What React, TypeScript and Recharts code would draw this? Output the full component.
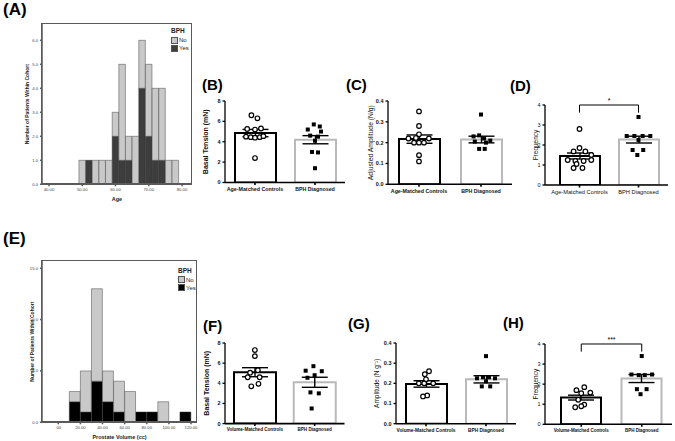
import React from 'react';
import {
  ComposedChart, BarChart, Bar, XAxis, YAxis, Scatter, ErrorBar, Cell,
  ReferenceLine, Legend,
} from 'recharts';

const SANS = '"Liberation Sans", Arial, Helvetica, sans-serif';

/* ---------- (A) age histogram ---------- */
const ageBins = [50, 52, 54, 56, 58, 60, 62, 64, 66, 68, 70, 72, 74, 76, 78];
const ageYes = [0, 1, 0, 0, 0, 2, 1, 1, 0, 4, 2, 1, 1, 0, 0];
const ageNo = [1, 0, 1, 1, 1, 1, 4, 1, 2, 2, 3, 3, 3, 1, 1];
const ageBinWidth = 2;
const ageAxisDomain: [number, number] = [37.9, 83];
const ageTicks = [40, 50, 60, 70, 80];
const ageCountDomain: [number, number] = [0, 6.68];
const ageCountTicks = [0, 1, 2, 3, 4, 5, 6];

/* ---------- (E) prostate volume histogram ---------- */
const volBins = [15, 25, 35, 45, 55, 65, 75, 85, 95, 105, 115];
const volYes = [2, 1, 4, 2, 1, 0, 1, 1, 0, 0, 1];
const volNo = [1, 4, 9, 3, 3, 3, 0, 0, 2, 0, 0];
const volBinWidth = 10;
const volAxisDomain: [number, number] = [-14.7, 125.4];
const volTicks = [0, 20, 40, 60, 80, 100, 120];
const volCountDomain: [number, number] = [0, 15.7];
const volCountTicks = [0, 5, 10, 15];

/* ---------- group names ---------- */
const groupsAge = ['Age-Matched Controls', 'BPH Diagnosed'];
const groupsVol = ['Volume-Matched Controls', 'BPH Diagnosed'];

type Pt = [number, number]; // [horizontal jitter in group units, value]

/* (B) basal tension, age-matched */
const bMeans = [4.85, 4.2];
const bSems = [0.36, 0.4];
const bCtrl: Pt[] = [[-0.06, 6.6], [0.04, 6.3], [-0.13, 5.25], [0, 5.2], [0.1, 5.3], [-0.15, 4.5], [-0.07, 4.45], [0, 4.4], [0.08, 4.45], [0.14, 4.55], [0, 2.4]];
const bBph: Pt[] = [[-0.02, 5.7], [0.08, 5.5], [-0.12, 5.2], [0.1, 5.0], [-0.08, 4.6], [0.05, 4.5], [0, 4.1], [-0.05, 3.0], [0.05, 2.95], [0, 1.4]];

/* (C) adjusted amplitude, age-matched */
const cMeans = [0.217, 0.215];
const cSems = [0.02, 0.016];
const cCtrl: Pt[] = [[0, 0.35], [0, 0.28], [0, 0.24], [-0.17, 0.22], [-0.05, 0.222], [0.16, 0.22], [-0.08, 0.2], [0, 0.2], [0.08, 0.2], [0, 0.14], [0, 0.11]];
const cBph: Pt[] = [[0, 0.335], [-0.12, 0.23], [-0.03, 0.235], [0.05, 0.22], [0.15, 0.21], [-0.1, 0.205], [0.08, 0.2], [-0.03, 0.17], [0.06, 0.17]];

/* (D) frequency, age-matched */
const dMeans = [1.45, 2.27];
const dSems = [0.15, 0.17];
const dCtrl: Pt[] = [[0, 2.8], [0, 1.85], [-0.1, 1.68], [0.1, 1.68], [0.2, 1.5], [-0.2, 1.25], [-0.07, 1.2], [0.07, 1.2], [0.2, 1.25], [-0.05, 1.05], [-0.1, 0.85], [0.05, 0.85]];
const dBph: Pt[] = [[0, 3.4], [-0.2, 2.45], [-0.07, 2.45], [0.07, 2.45], [0.2, 2.45], [0, 2.25], [-0.1, 1.75], [0.08, 1.75], [-0.02, 1.5]];

/* (F) basal tension, volume-matched */
const fMeans = [5.1, 4.1];
const fSems = [0.45, 0.5];
const fCtrl: Pt[] = [[0, 7.3], [0, 6.7], [0.05, 5.3], [-0.08, 5.05], [-0.12, 4.6], [0.08, 4.6], [0.06, 3.95], [-0.06, 3.7]];
const fBph: Pt[] = [[-0.02, 5.7], [-0.15, 5.25], [0.12, 5.2], [0, 4.8], [-0.12, 4.55], [-0.07, 3.1], [0.07, 3.0], [-0.05, 1.5]];

/* (G) amplitude, volume-matched */
const gMeans = [0.197, 0.22];
const gSems = [0.016, 0.018];
const gCtrl: Pt[] = [[0.05, 0.26], [-0.02, 0.245], [0, 0.22], [-0.12, 0.2], [-0.03, 0.2], [0.12, 0.2], [0.02, 0.14], [-0.05, 0.135]];
const gBph: Pt[] = [[0, 0.335], [-0.15, 0.225], [-0.05, 0.23], [0.05, 0.23], [0.15, 0.225], [0, 0.21], [-0.07, 0.185], [0.07, 0.185]];

/* (H) frequency, volume-matched */
const hMeans = [1.33, 2.28];
const hSems = [0.12, 0.2];
const hCtrl: Pt[] = [[0.05, 1.85], [-0.08, 1.7], [0.15, 1.58], [0, 1.55], [-0.05, 1.22], [0.05, 0.98], [-0.1, 0.85], [0, 0.9]];
const hBph: Pt[] = [[0, 3.4], [-0.17, 2.48], [-0.05, 2.45], [0.05, 2.45], [0.17, 2.48], [-0.08, 1.75], [0.08, 1.75], [-0.02, 1.5]];

/* ---------- shapes ---------- */
const OpenCircle = (p: any) => (
  <circle cx={p.cx} cy={p.cy} r={2.3} fill="#fff" stroke="#000" strokeWidth={1.2} />
);
const FilledSquare = (p: any) => (
  <rect x={p.cx - 2} y={p.cy - 2} width={4} height={4} fill="#000" />
);

/* single-line category tick (no wrapping) */
const makeCatTick = (fontSize: number, bold: boolean) => (props: any) => (
  <text x={props.x} y={props.y} dy={fontSize * 0.8} textAnchor="middle" fontSize={fontSize}
    fontWeight={bold ? 700 : 400} fill="#111" fontFamily={SANS}>
    {props.payload.value}
  </text>
);

/* ---------- histogram legend ---------- */
const HistLegend = (props: any) => {
  const items = [...(props.payload || [])].sort((a: any, b: any) => (a.value === 'No' ? -1 : b.value === 'No' ? 1 : 0));
  return (
    <div style={{ fontFamily: SANS, color: '#222' }}>
      <div style={{ fontSize: 6.5, fontWeight: 700, lineHeight: '10px' }}>BPH</div>
      {items.map((it: any) => (
        <div key={it.value} style={{ display: 'flex', alignItems: 'center', height: 8, fontSize: 6 }}>
          <span style={{ display: 'inline-block', width: 5, height: 5, background: it.color, border: '0.6px solid #555', marginRight: 1 }} />
          <span>{it.value}</span>
        </div>
      ))}
    </div>
  );
};

interface HistProps {
  plot: { l: number; r: number; t: number; b: number };
  bins: number[]; yes: number[]; no: number[]; binWidth: number;
  xDomain: [number, number]; xTicks: number[]; xFmt: (v: number) => string;
  yDomain: [number, number]; yTicks: number[];
  yesColor: string; noColor: string;
  xLabel: string; yLabel: string; yLabelX: number;
  legendAt: { x: number; y: number };
}

const FRAME = '#5a5a5a';

function Histogram(p: HistProps) {
  const yAxisW = 30, xAxisH = 18, mTop = 4, mRight = 4;
  const left = p.plot.l - yAxisW;
  const top = p.plot.t - mTop;
  const width = p.plot.r + mRight - left;
  const height = p.plot.b + xAxisH - top;
  const data = p.bins.map((b, i) => ({ bin: b, yes: p.yes[i], no: p.no[i] }));
  const barSize = ((p.plot.r - p.plot.l) * p.binWidth) / (p.xDomain[1] - p.xDomain[0]) * 0.985;
  return (
    <div style={{ position: 'absolute', left, top, width, height }}>
      <BarChart width={width} height={height} data={data} margin={{ top: mTop, right: mRight, bottom: 0, left: 0 }} barCategoryGap={0} barGap={0}>
        <XAxis type="number" dataKey="bin" domain={p.xDomain} ticks={p.xTicks} allowDataOverflow interval={0}
          tickFormatter={p.xFmt} height={xAxisH} stroke={FRAME} strokeWidth={1.5} tickSize={2}
          tick={{ fontSize: 4.2, fill: '#444', fontFamily: SANS }}
          label={{ value: p.xLabel, position: 'insideBottom', offset: 1, fontSize: 5.5, fontWeight: 700, fill: '#222', fontFamily: SANS }} />
        <YAxis type="number" domain={p.yDomain} ticks={p.yTicks} allowDataOverflow width={yAxisW}
          tickFormatter={(v: number) => v.toFixed(1)} stroke={FRAME} strokeWidth={1.5} tickSize={2}
          tick={{ fontSize: 4.2, fill: '#444', fontFamily: SANS }}
          label={{ value: p.yLabel, angle: -90, position: 'insideLeft', offset: p.yLabelX - left, fontSize: 5, fontWeight: 700, fill: '#222', fontFamily: SANS, style: { textAnchor: 'middle' } }} />
        <Bar dataKey="yes" name="Yes" stackId="h" fill={p.yesColor} stroke="#333" strokeWidth={0.5} barSize={barSize} isAnimationActive={false} />
        <Bar dataKey="no" name="No" stackId="h" fill={p.noColor} stroke="#444" strokeWidth={0.5} barSize={barSize} isAnimationActive={false} />
        <Legend layout="vertical" align="center" verticalAlign="middle" content={HistLegend}
          wrapperStyle={{ left: p.legendAt.x - left, top: p.legendAt.y - top, width: 'auto', height: 'auto' }} />
      </BarChart>
      {/* plot frame */}
      <div style={{ position: 'absolute', zIndex: 5, left: yAxisW - 1, top: mTop - 1, width: p.plot.r - p.plot.l - 1, height: p.plot.b - p.plot.t - 1, border: `1.5px solid ${FRAME}`, pointerEvents: 'none' }} />
    </div>
  );
}

interface PanelProps {
  plot: { l: number; r: number; t: number; b: number };
  padL?: number;
  yDomain: [number, number]; yTicks: number[]; yDigits: number;
  groups: string[]; means: number[]; sems: number[]; ctrl: Pt[]; bph: Pt[];
  yLabel: string; yLabelX: number; yLabelSize: number; yLabelBold: boolean;
  tickFont: number; tickBold: boolean;
  xFont: number; xBold: boolean;
  barSize: number;
  sig?: string; sigDrop?: number;
}

function DotBarPanel(p: PanelProps) {
  const yAxisW = 30, xAxisH = 20, mTop = 16, mRight = 3;
  const left = p.plot.l - yAxisW;
  const top = p.plot.t - mTop;
  const width = p.plot.r + mRight - left;
  const height = p.plot.b + xAxisH - top;
  const pad = { left: p.padL ?? 0, right: 0 };
  const barData = p.groups.map((g, i) => ({ name: g, mean: p.means[i], sem: p.sems[i] }));
  const ctrlData = p.ctrl.map(([dx, v]) => ({ x: 0.5 + dx, y: v }));
  const bphData = p.bph.map(([dx, v]) => ({ x: 1.5 + dx, y: v }));
  const yTop = p.yDomain[1];
  return (
    <div style={{ position: 'absolute', left, top }}>
      <ComposedChart width={width} height={height} data={barData} margin={{ top: mTop, right: mRight, bottom: 0, left: 0 }}>
        <XAxis xAxisId="cat" dataKey="name" type="category" padding={pad} height={xAxisH} interval={0}
          stroke="#000" strokeWidth={1.6} tickSize={2.5} tickMargin={1.5}
          tick={makeCatTick(p.xFont, p.xBold)} />
        <XAxis xAxisId="num" dataKey="x" type="number" domain={[0, 2]} padding={pad} hide allowDataOverflow />
        <YAxis type="number" domain={p.yDomain} ticks={p.yTicks} allowDataOverflow width={yAxisW}
          stroke="#000" strokeWidth={1.3} tickSize={2.5}
          tickFormatter={(v: number) => v.toFixed(p.yDigits)}
          tick={{ fontSize: p.tickFont, fontWeight: p.tickBold ? 700 : 400, fill: '#111', fontFamily: SANS }}
          label={{ value: p.yLabel, angle: -90, position: 'insideLeft', offset: p.yLabelX - left, fontSize: p.yLabelSize, fontWeight: p.yLabelBold ? 700 : 400, fill: '#111', fontFamily: SANS, style: { textAnchor: 'middle' } }} />
        <Bar xAxisId="cat" dataKey="mean" barSize={p.barSize} fill="#fff" strokeWidth={2} isAnimationActive={false}>
          {barData.map((_, i) => <Cell key={i} stroke={i === 0 ? '#000' : '#b9b9b9'} />)}
          <ErrorBar dataKey="sem" width={13} stroke="#000" strokeWidth={1.4} direction="y" />
        </Bar>
        <Scatter xAxisId="num" data={ctrlData} dataKey="y" shape={OpenCircle} isAnimationActive={false} />
        <Scatter xAxisId="num" data={bphData} dataKey="y" shape={FilledSquare} isAnimationActive={false} />
        {p.sig && (
          <ReferenceLine xAxisId="num" segment={[{ x: 0.5, y: yTop }, { x: 1.5, y: yTop }]} stroke="#000" strokeWidth={1} ifOverflow="visible"
            label={{ value: p.sig, position: 'top', offset: 2, fontSize: 7, fill: '#000', fontFamily: SANS }} />
        )}
        {p.sig && (
          <ReferenceLine xAxisId="num" segment={[{ x: 0.5, y: yTop }, { x: 0.5, y: p.sigDrop }]} stroke="#000" strokeWidth={1} ifOverflow="visible" />
        )}
        {p.sig && (
          <ReferenceLine xAxisId="num" segment={[{ x: 1.5, y: yTop }, { x: 1.5, y: p.sigDrop }]} stroke="#000" strokeWidth={1} ifOverflow="visible" />
        )}
      </ComposedChart>
    </div>
  );
}

const Letter = ({ text, x, y, size }: { text: string; x: number; y: number; size: number }) => (
  <div style={{ position: 'absolute', left: x, top: y, fontSize: size, lineHeight: 1, fontWeight: 700, fontFamily: SANS, color: '#000' }}>{text}</div>
);

const fmt2 = (v: number) => v.toFixed(2);
const fmtVol = (v: number) => (v === 0 ? '.00' : v.toFixed(2));

export default function App() {
  return (
    <div style={{ position: 'absolute', left: 0, top: 0, width: 675, height: 441, background: '#fff', overflow: 'hidden' }}>
      <Letter text="(A)" x={3} y={1} size={17} />
      <Letter text="(B)" x={202} y={77} size={15} />
      <Letter text="(C)" x={346} y={77} size={15} />
      <Letter text="(D)" x={510} y={78} size={15} />
      <Letter text="(E)" x={3} y={230} size={17} />
      <Letter text="(F)" x={203} y={318} size={15} />
      <Letter text="(G)" x={348} y={316} size={15} />
      <Letter text="(H)" x={503} y={315} size={15} />

      <Histogram plot={{ l: 42, r: 192, t: 24, b: 184.3 }} bins={ageBins} yes={ageYes} no={ageNo} binWidth={ageBinWidth}
        xDomain={ageAxisDomain} xTicks={ageTicks} xFmt={fmt2} yDomain={ageCountDomain} yTicks={ageCountTicks}
        yesColor="#3d3d3d" noColor="#c9c9c9" xLabel="Age" yLabel="Number of Patients Within Cohort" yLabelX={27}
        legendAt={{ x: 171, y: 26 }} />

      <Histogram plot={{ l: 42, r: 197, t: 261, b: 422.3 }} bins={volBins} yes={volYes} no={volNo} binWidth={volBinWidth}
        xDomain={volAxisDomain} xTicks={volTicks} xFmt={fmtVol} yDomain={volCountDomain} yTicks={volCountTicks}
        yesColor="#000" noColor="#c9c9c9" xLabel="Prostate Volume (cc)" yLabel="Number of Patients Within Cohort" yLabelX={32}
        legendAt={{ x: 178, y: 265.7 }} />

      <DotBarPanel plot={{ l: 225, r: 345, t: 101, b: 182.5 }} yDomain={[0, 8]} yTicks={[0, 2, 4, 6, 8]} yDigits={0}
        groups={groupsAge} means={bMeans} sems={bSems} ctrl={bCtrl} bph={bBph}
        yLabel="Basal Tension (mN)" yLabelX={206} yLabelSize={7} yLabelBold
        tickFont={5.5} tickBold xFont={5.3} xBold barSize={41} />

      <DotBarPanel plot={{ l: 388, r: 512, t: 101, b: 184.3 }} yDomain={[0, 0.4]} yTicks={[0, 0.1, 0.2, 0.3, 0.4]} yDigits={1}
        groups={groupsAge} means={cMeans} sems={cSems} ctrl={cCtrl} bph={cBph}
        yLabel="Adjusted Amplitude (N/g)" yLabelX={370.5} yLabelSize={6.8} yLabelBold={false}
        tickFont={5.5} tickBold xFont={5.3} xBold barSize={41} />

      <DotBarPanel plot={{ l: 545, r: 668, t: 105, b: 185 }} padL={5} yDomain={[0, 4]} yTicks={[0, 1, 2, 3, 4]} yDigits={0}
        groups={groupsAge} means={dMeans} sems={dSems} ctrl={dCtrl} bph={dBph}
        yLabel="Frequency" yLabelX={536} yLabelSize={6.5} yLabelBold={false}
        tickFont={5.5} tickBold={false} xFont={5.7} xBold={false} barSize={40} sig="*" sigDrop={3.62} />

      <DotBarPanel plot={{ l: 224.5, r: 344, t: 342.7, b: 423.3 }} yDomain={[0, 8]} yTicks={[0, 2, 4, 6, 8]} yDigits={0}
        groups={groupsVol} means={fMeans} sems={fSems} ctrl={fCtrl} bph={fBph}
        yLabel="Basal Tension (mN)" yLabelX={206} yLabelSize={7} yLabelBold
        tickFont={5.5} tickBold xFont={4.6} xBold barSize={42} />

      <DotBarPanel plot={{ l: 396, r: 516, t: 343.3, b: 424 }} yDomain={[0, 0.4]} yTicks={[0, 0.1, 0.2, 0.3, 0.4]} yDigits={1}
        groups={groupsVol} means={gMeans} sems={gSems} ctrl={gCtrl} bph={gBph}
        yLabel="Amplitude (N g⁻¹)" yLabelX={376.7} yLabelSize={6.5} yLabelBold={false}
        tickFont={5.5} tickBold xFont={4.8} xBold barSize={41} />

      <DotBarPanel plot={{ l: 545, r: 672, t: 344, b: 424.3 }} padL={6} yDomain={[0, 4]} yTicks={[0, 1, 2, 3, 4]} yDigits={0}
        groups={groupsVol} means={hMeans} sems={hSems} ctrl={hCtrl} bph={hBph}
        yLabel="Frequency" yLabelX={536} yLabelSize={6.5} yLabelBold={false}
        tickFont={5.5} tickBold={false} xFont={4.5} xBold barSize={40} sig="***" sigDrop={3.62} />
    </div>
  );
}
